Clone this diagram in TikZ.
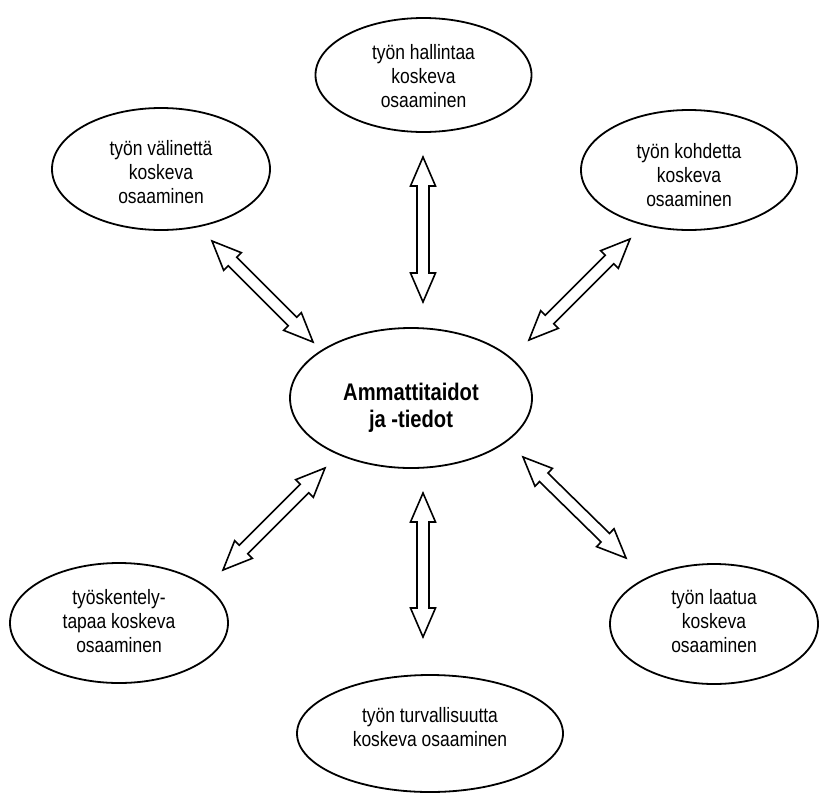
\documentclass[tikz,border=0pt]{standalone}
\usepackage{fontspec}
\setmainfont{Liberation Sans}[FakeStretch=0.84]
\usetikzlibrary{shapes.geometric,calc}

% hollow double-headed block arrow between two named points
\newcommand\dblarrow[2]{%
  \path[blockarrow] let \p1=(#1), \p2=(#2),
      \n1={atan2(\y2-\y1,\x2-\x1)}, \n2={veclen(\x2-\x1,\y2-\y1)} in
      [shift={(\p1)}, rotate=\n1]
      (0pt,0pt) -- (29pt,12.5pt) -- (29pt,6pt) -- (\n2-29pt,6pt)
      -- (\n2-29pt,12.5pt) -- (\n2,0pt) -- (\n2-29pt,-12.5pt)
      -- (\n2-29pt,-6pt) -- (29pt,-6pt) -- (29pt,-12.5pt) -- cycle;
}

\begin{document}
\begin{tikzpicture}[x=1pt,y=-1pt,
  bubble/.style={ellipse, draw=black, line width=1.8pt, inner sep=0pt, fill=white},
  caption/.style={align=center, inner sep=0pt, font=\fontsize{20.8}{24}\selectfont},
  bigcaption/.style={align=center, inner sep=0pt, font=\fontsize{24}{27.5}\selectfont\bfseries},
  blockarrow/.style={draw=black, line width=1.6pt, fill=white, line join=miter}]

\useasboundingbox[fill=white] (0,0) rectangle (819,793);

% centre topic
\node[bubble, minimum width=242, minimum height=140,
      label={[bigcaption, yshift=-10pt]center:Ammattitaidot\\ja -tiedot}] (ctr) at (411,398) {};

% surrounding areas of competence
\node[bubble, minimum width=216, minimum height=114,
      label={[caption, yshift=-1pt]center:työn hallintaa\\koskeva\\osaaminen}] (top) at (423.5,75) {};
\node[bubble, minimum width=218, minimum height=122,
      label={[caption, yshift=-3pt]center:työn välinettä\\koskeva\\osaaminen}] (tl) at (161,169) {};
\node[bubble, minimum width=216, minimum height=120,
      label={[caption, yshift=-5pt]center:työn kohdetta\\koskeva\\osaaminen}] (tr) at (689,170) {};
\node[bubble, minimum width=218, minimum height=120,
      label={[caption, yshift=2pt]center:työskentely-\\tapaa koskeva\\osaaminen}] (bl) at (119,623) {};
\node[bubble, minimum width=208, minimum height=120,
      label={[caption, yshift=3pt]center:työn laatua\\koskeva\\osaaminen}] (br) at (714,624) {};
\node[bubble, minimum width=266, minimum height=117,
      label={[caption, yshift=6pt]center:työn turvallisuutta\\koskeva osaaminen}] (bot) at (430,733.5) {};

% arrow end points
\coordinate (topA) at (423,157);  \coordinate (topB) at (423,302);
\coordinate (tlA)  at (212,241);  \coordinate (tlB)  at (313,342);
\coordinate (trA)  at (630,239);  \coordinate (trB)  at (529,340);
\coordinate (blA)  at (325,468);  \coordinate (blB)  at (223,570);
\coordinate (botA) at (423,493);  \coordinate (botB) at (423,637);
\coordinate (brA)  at (523,457);  \coordinate (brB)  at (626,558);

\dblarrow{topA}{topB}
\dblarrow{tlA}{tlB}
\dblarrow{trA}{trB}
\dblarrow{blA}{blB}
\dblarrow{botA}{botB}
\dblarrow{brA}{brB}
\end{tikzpicture}
\end{document}
